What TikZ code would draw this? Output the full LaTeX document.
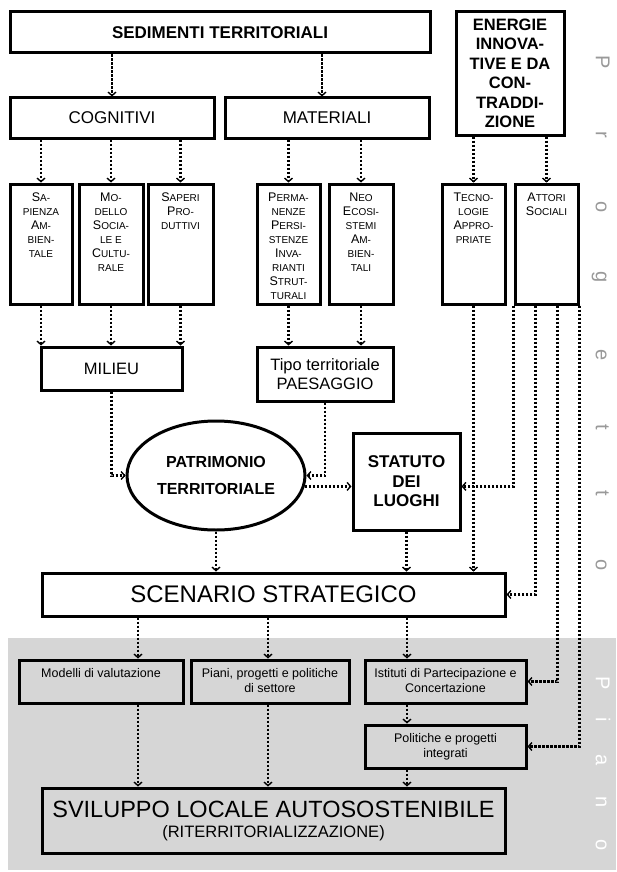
\documentclass[tikz,border=0pt]{standalone}
\usepackage{fontspec}
\setmainfont{Liberation Sans}
\usetikzlibrary{arrows.meta, shapes.geometric, calc}
\newcommand\capl[1]{{\fontsize{12.5}{14}\selectfont #1}}
\newcommand\coltext[1]{\parbox[c][112pt][t]{60pt}{\centering\vspace*{5pt}#1}}
\newcommand\rowtext[1]{\parbox[c][35pt][t]{158pt}{\centering\vspace*{4pt}#1}}

\tikzset{
  box/.style={draw, line width=3pt, inner sep=0pt, align=center},
  colbox/.style={box, minimum width=#1, minimum height=120pt, font=\fontsize{10}{14}\selectfont},
  rowbox/.style={box, minimum width=#1, minimum height=43pt, font=\fontsize{12.5}{15}\selectfont},
  flow/.style={line width=2.6pt, dash pattern=on 2.4pt off 1.6pt,
    -{Straight Barb[length=3.5pt,width=8pt,line width=1.4pt]}},
  letter/.style={rotate=-90, font=\fontsize{20}{20}\selectfont, inner sep=0pt,
    text height=14.5pt, text depth=4.3pt}
}

\begin{document}
\begin{tikzpicture}[x=1pt, y=-1pt]
\useasboundingbox (0,0) rectangle (616,872);
\fill[gray!32] (8,638) rectangle (616,870);

% progetto / piano
\foreach \ch/\yy [count=\i] in {P/62, r/135, o/207, g/277, e/355, t/427, t/493, o/565}
  \node[letter, text=black!40] (pg\i) at (601,\yy) {\ch};
\foreach \ch/\yy [count=\i] in {P/683, i/720, a/760, n/802, o/845}
  \node[letter, text=white] (pn\i) at (601,\yy) {\ch};

% top row
\node[box, minimum width=420pt, minimum height=41pt, font=\bfseries\fontsize{17}{19}\selectfont] (sed) at (220,32.5) {SEDIMENTI TERRITORIALI};
\node[box, minimum width=108pt, minimum height=123pt, font=\bfseries\fontsize{16.5}{19.5}\selectfont] (ener) at (510,73.5)
  {ENERGIE\\INNOVA-\\TIVE E DA\\CON-\\TRADDI-\\ZIONE};
\node[box, minimum width=204pt, minimum height=40pt, font=\fontsize{17}{19}\selectfont] (cogn) at (112,118) {COGNITIVI};
\node[box, minimum width=204pt, minimum height=40pt, font=\fontsize{17}{19}\selectfont] (mat) at (327,118) {MATERIALI};

% columns
\node[colbox=62pt] (sap) at (41,244) {\coltext{\capl{S}A-\\PIENZA\\\capl{A}M-\\BIEN-\\TALE}};
\node[colbox=64pt] (msoc) at (111,244) {\coltext{\capl{M}O-\\DELLO\\\capl{S}OCIA-\\LE E\\\capl{C}ULTU-\\RALE}};
\node[colbox=65pt] (sapr) at (180.5,244) {\coltext{\capl{S}APERI\\\capl{P}RO-\\DUTTIVI}};
\node[colbox=63pt] (perm) at (288.5,244) {\coltext{\capl{P}ERMA-\\NENZE\\\capl{P}ERSI-\\STENZE\\\capl{I}NVA-\\RIANTI\\\capl{S}TRUT-\\TURALI}};
\node[colbox=64pt] (neo) at (361,244) {\coltext{\capl{N}EO\\\capl{E}COSI-\\STEMI\\\capl{A}M-\\BIEN-\\TALI}};
\node[colbox=63pt] (tecn) at (473.5,244) {\coltext{\capl{T}ECNO-\\LOGIE\\\capl{A}PPRO-\\PRIATE}};
\node[colbox=63pt] (attr) at (546.5,244) {\coltext{\capl{A}TTORI\\\capl{S}OCIALI}};

% middle
\node[box, minimum width=141pt, minimum height=43pt, font=\fontsize{16.5}{19}\selectfont] (milieu) at (111.5,368.5) {MILIEU};
\node[box, minimum width=136pt, minimum height=54pt, font=\fontsize{16.5}{19}\selectfont] (tipo) at (325,374) {Tipo territoriale\\PAESAGGIO};
\node[box, ellipse, minimum width=178pt, minimum height=109pt, font=\bfseries\fontsize{16}{27}\selectfont] (patr) at (216,475.5) {PATRIMONIO\\TERRITORIALE};
\node[box, minimum width=107pt, minimum height=97pt, font=\bfseries\fontsize{17}{19.5}\selectfont] (stat) at (406.5,481.5) {STATUTO\\DEI\\LUOGHI};
\node[box, minimum width=463pt, minimum height=43pt, font=\fontsize{24}{26}\selectfont] (scen) at (273.5,594.5) {SCENARIO STRATEGICO};

% piano
\node[rowbox=164pt] (model) at (101,681.5) {\rowtext{Modelli di valutazione}};
\node[rowbox=156pt] (piani) at (270,681.5) {\rowtext{Piani, progetti e politiche\\di settore}};
\node[rowbox=161pt] (ist) at (445.5,681.5) {\rowtext{Istituti di Partecipazione e\\Concertazione}};
\node[rowbox=161pt] (pol) at (445.5,746.5) {\rowtext{Politiche e progetti\\integrati}};
\node[box, minimum width=463pt, minimum height=65pt, font=\fontsize{23.5}{20}\selectfont] (svil) at (273.5,820.5)
  {SVILUPPO LOCALE AUTOSOSTENIBILE\\{\fontsize{16.5}{20}\selectfont (RITERRITORIALIZZAZIONE)}};

\coordinate (k1) at (138,0);
\coordinate (k2) at (268,0);
\coordinate (k3) at (407,0);
\coordinate (m1) at ([xshift=-5pt]mat.north);
\coordinate (a2) at ($(attr.south west)!0.333!(attr.south east)$);
\coordinate (a3) at ($(attr.south west)!0.667!(attr.south east)$);

\draw[flow] (sed.south -| cogn.north) -- (cogn.north);
\draw[flow] (sed.south -| m1) -- (m1);
\foreach \n in {sap, msoc, sapr} \draw[flow] (cogn.south -| \n.north) -- (\n.north);
\foreach \n in {perm, neo} \draw[flow] (mat.south -| \n.north) -- (\n.north);
\foreach \n in {tecn, attr} \draw[flow] (ener.south -| \n.north) -- (\n.north);
\foreach \n in {sap, msoc, sapr} \draw[flow] (\n.south) -- (\n.south |- milieu.north);
\foreach \n in {perm, neo} \draw[flow] (\n.south) -- (\n.south |- tipo.north);
\draw[flow] (milieu.south) |- (patr.west);
\draw[flow] (tipo.south) |- (patr.east);
\draw[flow] (patr.-7.5) -- (stat.west |- patr.-7.5);
\draw[flow] (attr.south west) |- (stat.east |- patr.-7.5);
\draw[flow] (a2) |- (scen.east);
\draw[flow] (a3) |- (ist.east);
\draw[flow] (attr.south east) |- (pol.east);
\draw[flow] (tecn.south) -- (tecn.south |- scen.north);
\draw[flow] (patr.south) -- (patr.south |- scen.north);
\draw[flow] (stat.south) -- (stat.south |- scen.north);
\draw[flow] (scen.south -| k1) -- (model.north -| k1);
\draw[flow] (scen.south -| k2) -- (piani.north -| k2);
\draw[flow] (scen.south -| k3) -- (ist.north -| k3);
\draw[flow] (model.south -| k1) -- (svil.north -| k1);
\draw[flow] (piani.south -| k2) -- (svil.north -| k2);
\draw[flow] (ist.south -| k3) -- (pol.north -| k3);
\draw[flow] (pol.south -| k3) -- (svil.north -| k3);
\end{tikzpicture}
\end{document}
